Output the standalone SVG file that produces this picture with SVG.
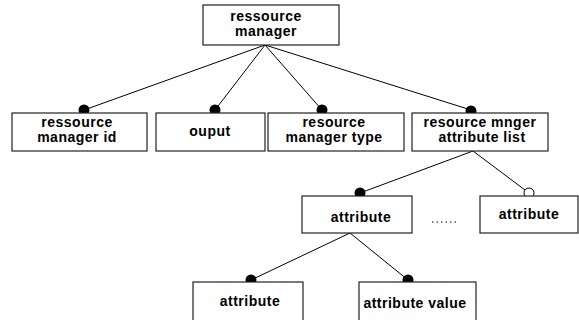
<svg xmlns="http://www.w3.org/2000/svg" width="579" height="320" viewBox="0 0 579 320">
<style>
.box{fill:#fff;stroke:#222;stroke-width:1.2}
.t{font-family:"Liberation Sans",Arial,sans-serif;font-weight:bold;font-size:14px;letter-spacing:0.5px;fill:#000;text-anchor:middle}
.ln{stroke:#000;stroke-width:1;fill:none}
.dot{fill:#000}
.odot{fill:#fff;stroke:#000;stroke-width:1}
</style>
<rect width="579" height="320" fill="#fff"/>
<g id="connectors">
<line class="ln" x1="265" y1="45" x2="84" y2="110"/>
<line class="ln" x1="265" y1="45" x2="215" y2="110"/>
<line class="ln" x1="265" y1="45" x2="322" y2="110"/>
<line class="ln" x1="265" y1="45" x2="471" y2="110"/>
<line class="ln" x1="473" y1="151" x2="360" y2="193"/>
<line class="ln" x1="473" y1="151" x2="529" y2="193"/>
<line class="ln" x1="350" y1="233" x2="251" y2="280"/>
<line class="ln" x1="350" y1="233" x2="408" y2="280"/>
<circle class="dot" cx="84" cy="110" r="5.5"/>
<circle class="dot" cx="215" cy="110" r="5.5"/>
<circle class="dot" cx="322" cy="110" r="5.5"/>
<circle class="dot" cx="471" cy="111" r="5.5"/>
<circle class="dot" cx="360" cy="193" r="5.5"/>
<circle class="odot" cx="529" cy="193" r="5"/>
<circle class="dot" cx="251" cy="280" r="5.5"/>
<circle class="dot" cx="408" cy="280" r="5.5"/>
<line x1="432" y1="222" x2="459" y2="222" stroke="#000" stroke-width="1" stroke-dasharray="1.5,3"/>
</g>
<g id="n-root">
<rect class="box" x="203" y="5" width="136" height="40"/>
<text class="t" x="266" y="21">ressource</text>
<text class="t" x="266" y="36">manager</text>
</g>
<g id="n-id">
<rect class="box" x="12" y="113" width="135" height="38"/>
<text class="t" x="77" y="127">ressource</text>
<text class="t" x="77" y="142">manager id</text>
</g>
<g id="n-ouput">
<rect class="box" x="156" y="113" width="109" height="38"/>
<text class="t" x="210" y="136">ouput</text>
</g>
<g id="n-type">
<rect class="box" x="268" y="113" width="136" height="38"/>
<text class="t" x="334" y="127">resource</text>
<text class="t" x="334" y="142">manager type</text>
</g>
<g id="n-list">
<rect class="box" x="412" y="113" width="136" height="38"/>
<text class="t" x="480" y="127">resource mnger</text>
<text class="t" x="482" y="142">attribute list</text>
</g>
<g id="n-attr1">
<rect class="box" x="302" y="196" width="110" height="37"/>
<text class="t" x="361" y="222">attribute</text>
</g>
<g id="n-attr2">
<rect class="box" x="480" y="196" width="98" height="37"/>
<text class="t" x="529" y="219">attribute</text>
</g>
<g id="n-attr3">
<rect class="box" x="193" y="282" width="110" height="45"/>
<text class="t" x="250" y="306">attribute</text>
</g>
<g id="n-value">
<rect class="box" x="359" y="282" width="117" height="45"/>
<text class="t" x="415" y="308">attribute value</text>
</g>
</svg>
